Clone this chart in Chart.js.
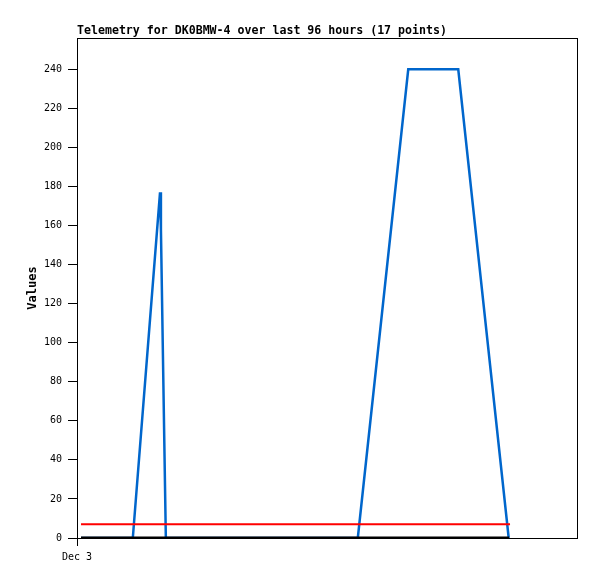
<!DOCTYPE html>
<html>
<head>
<meta charset="utf-8">
<script src="https://cdn.jsdelivr.net/npm/chart.js@4"></script>
<style>
  html, body { margin: 0; padding: 0; background: #fff; }
  #wrap { width: 597px; height: 579px; }
</style>
</head>
<body>
<div id="wrap"><canvas id="chart" width="597" height="579"></canvas></div>
<script>
// hours since Dec 3 00:00 (x)
const titleText = 'Telemetry for DK0BMW-4 over last 96 hours (17 points)';
const xTickLabels = ['Dec 3'];
const blueHours = [0.9, 12.5, 18.6, 18.8, 19.9, 62.9, 74.2, 85.4, 96.7];
const blueValues = [0, 0, 177, 158, 0, 0, 240, 240, 0];
const redHours = [0.9, 97.0];
const redValues = [7, 7];
const blackHours = [0.9, 96.8];
const blackValues = [0, 0];
const yTicks = [0, 20, 40, 60, 80, 100, 120, 140, 160, 180, 200, 220, 240];

const toPoints = (xs, ys) => xs.map((x, i) => ({ x: x, y: ys[i] }));

const frameAndTitle = {
  id: 'frameAndTitle',
  afterDraw(chart) {
    const { ctx, chartArea: a } = chart;
    ctx.save();
    ctx.strokeStyle = '#000';
    ctx.lineWidth = 1;
    ctx.strokeRect(a.left + 0.5, a.top + 0.5, a.right - a.left, a.bottom - a.top);
    ctx.fillStyle = '#000';
    ctx.font = 'bold 11.6px "DejaVu Sans Mono"';
    ctx.textBaseline = 'middle';
    ctx.textAlign = 'left';
    ctx.fillText(titleText, a.left, 31);
    ctx.restore();
  }
};

new Chart(document.getElementById('chart').getContext('2d'), {
  type: 'line',
  data: {
    datasets: [
      { data: toPoints(blueHours, blueValues), borderColor: '#0066cc', borderWidth: 2.5, pointRadius: 0, tension: 0, order: 3 },
      { data: toPoints(redHours, redValues), borderColor: '#ff0000', borderWidth: 2, pointRadius: 0, order: 2 },
      { data: toPoints(blackHours, blackValues), borderColor: '#000000', borderWidth: 3, pointRadius: 0, order: 1 }
    ]
  },
  options: {
    responsive: false,
    animation: false,
    layout: { padding: { top: 38, right: 20, left: 0, bottom: 0 } },
    plugins: { legend: { display: false }, tooltip: { enabled: false } },
    scales: {
      x: {
        type: 'linear',
        min: 0,
        max: 112,
        afterBuildTicks: s => { s.ticks = [{ value: 0 }]; },
        afterFit: s => { s.height = 41; },
        ticks: {
          callback: (v, i) => xTickLabels[i],
          color: '#000',
          font: { family: 'DejaVu Sans Mono', size: 10 },
          maxRotation: 0,
          padding: 5
        },
        grid: { drawOnChartArea: false, tickLength: 8, color: '#000', lineWidth: 1 },
        border: { color: '#000', width: 1 }
      },
      y: {
        min: 0,
        max: 256,
        afterBuildTicks: s => { s.ticks = yTicks.map(v => ({ value: v })); },
        afterFit: s => { s.width = 77; },
        ticks: {
          color: '#000',
          font: { family: 'DejaVu Sans Mono', size: 10 },
          padding: 6
        },
        grid: { drawOnChartArea: false, tickLength: 9, color: '#000', lineWidth: 1 },
        border: { color: '#000', width: 1 },
        title: {
          display: true,
          text: 'Values',
          color: '#000',
          font: { family: 'DejaVu Sans Mono', size: 12, weight: 'bold' },
          padding: { top: 26, bottom: 0 }
        }
      }
    }
  },
  plugins: [frameAndTitle]
});
</script>
</body>
</html>
